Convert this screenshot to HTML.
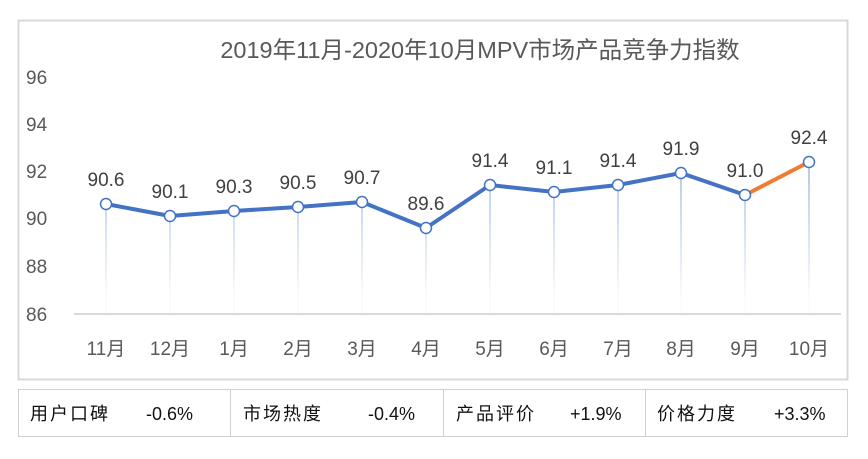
<!DOCTYPE html>
<html><head><meta charset="utf-8"><style>
body{margin:0;background:#fff;width:868px;height:459px;overflow:hidden;font-family:"Liberation Sans","Noto Sans CJK SC",sans-serif}
</style></head><body>
<svg width="868" height="459" xmlns="http://www.w3.org/2000/svg" style="position:absolute;left:0;top:0">
<defs><linearGradient id="g" gradientUnits="userSpaceOnUse" x1="0" y1="160" x2="0" y2="300"><stop offset="0" stop-color="#b4c7e7"/><stop offset="1" stop-color="#b4c7e7" stop-opacity="0.05"/></linearGradient></defs>
<rect x="18.5" y="20.5" width="829" height="359" fill="#fff" stroke="#d9d9d9" stroke-width="2"/>
<text x="480" y="58" text-anchor="middle" font-size="23.5" fill="#595959" font-family="Liberation Sans,Noto Sans CJK SC,sans-serif">2019年11月-2020年10月MPV市场产品竞争力指数</text>
<g font-size="19" fill="#595959">
<text x="26" y="84">96</text><text x="26" y="131">94</text><text x="26" y="178">92</text><text x="26" y="225">90</text><text x="26" y="273">88</text><text x="26" y="321">86</text>
</g>
<line x1="74" y1="314" x2="841" y2="314" stroke="#d9d9d9" stroke-width="2"/>
<g font-size="19" fill="#595959" text-anchor="middle">
<text x="106" y="355">11月</text><text x="170" y="355">12月</text><text x="234" y="355">1月</text><text x="298" y="355">2月</text><text x="362" y="355">3月</text><text x="426" y="355">4月</text><text x="490" y="355">5月</text><text x="554" y="355">6月</text><text x="618" y="355">7月</text><text x="681" y="355">8月</text><text x="745" y="355">9月</text><text x="809" y="355">10月</text>
</g>
<g stroke="url(#g)" stroke-width="2">
<line x1="106" y1="204" x2="106" y2="313"/><line x1="170" y1="216" x2="170" y2="313"/><line x1="234" y1="211" x2="234" y2="313"/><line x1="298" y1="207" x2="298" y2="313"/><line x1="362" y1="202" x2="362" y2="313"/><line x1="426" y1="228" x2="426" y2="313"/><line x1="490" y1="185" x2="490" y2="313"/><line x1="554" y1="192" x2="554" y2="313"/><line x1="618" y1="185" x2="618" y2="313"/><line x1="681" y1="173" x2="681" y2="313"/><line x1="745" y1="195" x2="745" y2="313"/><line x1="809" y1="162" x2="809" y2="313"/>
</g>
<polyline points="106,204 170,216 234,211 298,207 362,202 426,228 490,185 554,192 618,185 681,173 745,195" fill="none" stroke="#4472c4" stroke-width="4" stroke-linejoin="round"/>
<line x1="745" y1="195" x2="809" y2="162" stroke="#ed7d31" stroke-width="4"/>
<g fill="#fff" stroke="#4472c4" stroke-width="1.5">
<circle cx="106" cy="204" r="5.5"/><circle cx="170" cy="216" r="5.5"/><circle cx="234" cy="211" r="5.5"/><circle cx="298" cy="207" r="5.5"/><circle cx="362" cy="202" r="5.5"/><circle cx="426" cy="228" r="5.5"/><circle cx="490" cy="185" r="5.5"/><circle cx="554" cy="192" r="5.5"/><circle cx="618" cy="185" r="5.5"/><circle cx="681" cy="173" r="5.5"/><circle cx="745" cy="195" r="5.5"/><circle cx="809" cy="162" r="5.5"/>
</g>
<g font-size="19" fill="#404040" text-anchor="middle">
<text x="106" y="186">90.6</text><text x="170" y="198">90.1</text><text x="234" y="193">90.3</text><text x="298" y="189">90.5</text><text x="362" y="184">90.7</text><text x="426" y="210">89.6</text><text x="490" y="167">91.4</text><text x="554" y="174">91.1</text><text x="618" y="167">91.4</text><text x="681" y="155">91.9</text><text x="745" y="177">91.0</text><text x="809" y="144">92.4</text>
</g>
<rect x="18.5" y="389.5" width="829" height="47" fill="none" stroke="#d0d0d0" stroke-width="1"/>
<line x1="230.5" y1="389" x2="230.5" y2="437" stroke="#d0d0d0"/>
<line x1="443.5" y1="389" x2="443.5" y2="437" stroke="#d0d0d0"/>
<line x1="645.5" y1="389" x2="645.5" y2="437" stroke="#d0d0d0"/>
<g font-size="18" fill="#111">
<text x="30" y="420" letter-spacing="2">用户口碑</text><text x="146" y="420">-0.6%</text>
<text x="243" y="420" letter-spacing="2">市场热度</text><text x="368" y="420">-0.4%</text>
<text x="456" y="420" letter-spacing="2">产品评价</text><text x="570" y="420">+1.9%</text>
<text x="657" y="420" letter-spacing="2">价格力度</text><text x="774" y="420">+3.3%</text>
</g>
</svg>
</body></html>
